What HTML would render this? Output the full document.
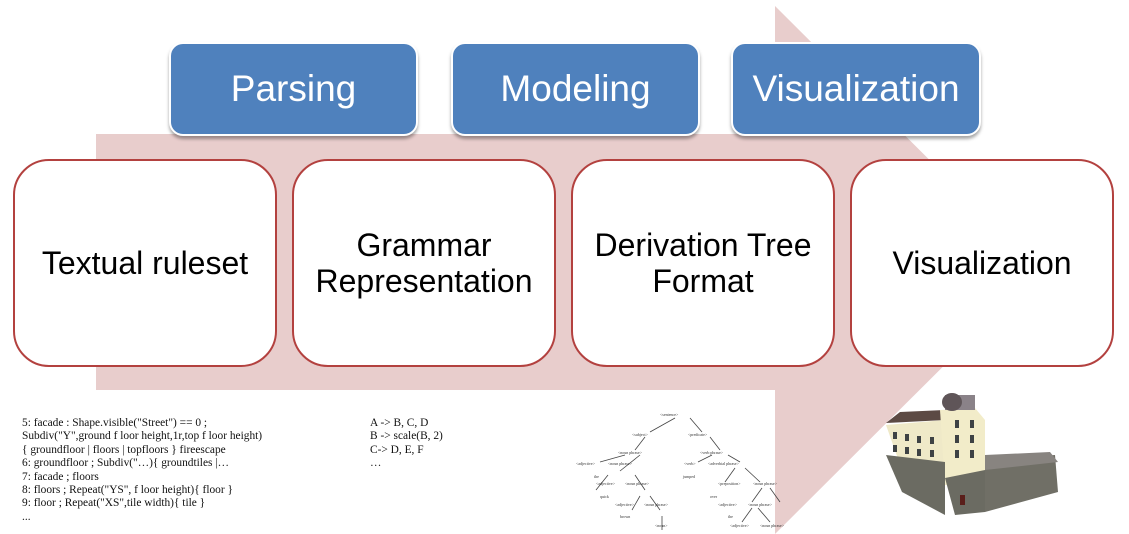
<!DOCTYPE html>
<html><head><meta charset="utf-8"><style>
body{margin:0;width:1129px;height:534px;background:#fff;overflow:hidden;position:relative;font-family:"Liberation Sans",sans-serif}
.b{position:absolute;top:42px;height:90px;background:#4f81bd;border:2px solid #fff;border-radius:14px;box-shadow:0 3px 3px rgba(0,0,0,.35);color:#fff;font-size:37px;display:flex;align-items:center;justify-content:center}
.r{position:absolute;top:159px;height:204px;width:260px;background:#fff;border:2.5px solid #b3413f;border-radius:36px;font-size:32px;display:flex;align-items:center;justify-content:center;text-align:center;line-height:36px;color:#000}
.code{position:absolute;font-family:"Liberation Serif",serif;font-size:11.4px;line-height:13.4px;color:#111;white-space:pre}
</style></head><body>
<svg width="1129" height="534" style="position:absolute;left:0;top:0">
<polygon points="96,134 775,134 775,6 1040,270 775,534 775,390 96,390" fill="#e8cdcc"/>
<rect x="560" y="395" width="215" height="139" fill="#fff"/>
<g stroke="#444" stroke-width="0.8" fill="none">
<line x1="675" y1="418" x2="650" y2="432"/><line x1="690" y1="418" x2="702" y2="432"/>
<line x1="645" y1="437" x2="635" y2="450"/><line x1="710" y1="437" x2="720" y2="450"/>
<line x1="625" y1="455" x2="600" y2="462"/><line x1="640" y1="455" x2="620" y2="471"/>
<line x1="608" y1="475" x2="596" y2="490"/><line x1="635" y1="475" x2="645" y2="490"/>
<line x1="640" y1="496" x2="632" y2="510"/><line x1="650" y1="496" x2="660" y2="510"/>
<line x1="662" y1="516" x2="662" y2="530"/>
<line x1="712" y1="455" x2="698" y2="462"/><line x1="728" y1="455" x2="740" y2="462"/>
<line x1="735" y1="468" x2="725" y2="482"/><line x1="745" y1="468" x2="760" y2="482"/>
<line x1="762" y1="488" x2="752" y2="502"/><line x1="770" y1="488" x2="780" y2="502"/>
<line x1="752" y1="508" x2="742" y2="522"/><line x1="758" y1="508" x2="770" y2="522"/>
</g>
<g font-family="Liberation Serif" font-size="4" fill="#333">
<text x="660" y="416">&lt;sentence&gt;</text><text x="632" y="436">&lt;subject&gt;</text><text x="688" y="436">&lt;predicate&gt;</text>
<text x="618" y="454">&lt;noun phrase&gt;</text><text x="700" y="454">&lt;verb phrase&gt;</text>
<text x="576" y="465">&lt;adjective&gt;</text><text x="608" y="465">&lt;noun phrase&gt;</text>
<text x="684" y="465">&lt;verb&gt;</text><text x="708" y="465">&lt;adverbial phrase&gt;</text>
<text x="594" y="478">the</text><text x="683" y="478">jumped</text>
<text x="596" y="485">&lt;adjective&gt;</text><text x="625" y="485">&lt;noun phrase&gt;</text>
<text x="718" y="485">&lt;preposition&gt;</text><text x="753" y="485">&lt;noun phrase&gt;</text>
<text x="600" y="498">quick</text><text x="710" y="498">over</text>
<text x="615" y="506">&lt;adjective&gt;</text><text x="644" y="506">&lt;noun phrase&gt;</text>
<text x="718" y="506">&lt;adjective&gt;</text><text x="748" y="506">&lt;noun phrase&gt;</text>
<text x="620" y="518">brown</text><text x="728" y="518">the</text>
<text x="655" y="527">&lt;noun&gt;</text><text x="730" y="527">&lt;adjective&gt;</text><text x="760" y="527">&lt;noun phrase&gt;</text>
</g>
<polygon points="886,425 945,420 945,478 902,470" fill="#efe9c8"/>
<polygon points="886,423 900,412 945,410 945,420" fill="#5c4a44"/>
<polygon points="940,410 975,408 985,420 985,488 945,485" fill="#f2ecc9"/>
<polygon points="945,395 975,395 975,410 945,410" fill="#8a8288"/>
<ellipse cx="952" cy="402" rx="10" ry="9" fill="#5f5558"/>
<polygon points="886,455 945,462 945,515 902,492" fill="#6b6b62"/>
<polygon points="945,478 985,470 985,512 955,515" fill="#6b6b62"/>
<polygon points="985,460 1055,455 1058,492 985,512" fill="#706f66"/>
<polygon points="985,455 1050,452 1058,462 985,470" fill="#888480"/>
<g fill="#3e4244">
<rect x="893" y="432" width="4" height="7"/><rect x="905" y="434" width="4" height="7"/><rect x="917" y="436" width="4" height="7"/><rect x="930" y="437" width="4" height="7"/>
<rect x="893" y="445" width="4" height="7"/><rect x="905" y="447" width="4" height="7"/><rect x="917" y="449" width="4" height="7"/><rect x="930" y="450" width="4" height="7"/>
<rect x="955" y="420" width="4" height="8"/><rect x="970" y="420" width="4" height="8"/><rect x="955" y="435" width="4" height="8"/><rect x="970" y="435" width="4" height="8"/><rect x="955" y="450" width="4" height="8"/><rect x="970" y="450" width="4" height="8"/>
<rect x="960" y="495" width="5" height="10" fill="#5a1e1a"/>
</g>
</svg>
<div class="b" style="left:169px;width:245px">Parsing</div>
<div class="b" style="left:451px;width:245px">Modeling</div>
<div class="b" style="left:731px;width:246px">Visualization</div>
<div class="r" style="left:13px">Textual ruleset</div>
<div class="r" style="left:292px">Grammar<br>Representation</div>
<div class="r" style="left:571px">Derivation Tree<br>Format</div>
<div class="r" style="left:850px">Visualization</div>
<div class="code" style="left:22px;top:417px">5: facade : Shape.visible("Street") == 0 ;
Subdiv("Y",ground f loor height,1r,top f loor height)
{ groundfloor | floors | topfloors } fireescape
6: groundfloor ; Subdiv("…){ groundtiles |…
7: facade ; floors
8: floors ; Repeat("YS", f loor height){ floor }
9: floor ; Repeat("XS",tile width){ tile }
...</div>
<div class="code" style="left:370px;top:417px">A -&gt; B, C, D
B -&gt; scale(B, 2)
C-&gt; D, E, F
…</div>
</body></html>
